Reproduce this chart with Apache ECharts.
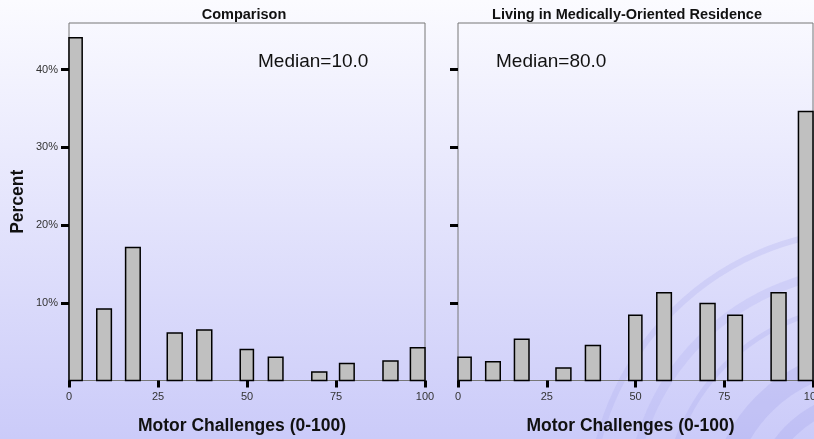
<!DOCTYPE html>
<html><head><meta charset="utf-8">
<script src="https://cdn.jsdelivr.net/npm/echarts@6/dist/echarts.min.js"></script>
<style>html,body{margin:0;padding:0;background:#fff}#c{width:814px;height:439px}</style>
</head><body><div id="c"></div>
<script>
// Histogram bins (Motor Challenges score, 0-100)
const binStart = [0, 7.8, 15.9, 27.6, 35.9, 48.1, 56.0, 68.2, 76.0, 88.2, 95.9];
const binEnd   = [3.7, 11.9, 20.0, 31.8, 40.1, 51.8, 60.1, 72.4, 80.1, 92.4, 100];
// Percent of group in each bin
const comparisonPct = [44.1, 9.2, 17.1, 6.1, 6.5, 4.0, 3.0, 1.1, 2.2, 2.5, 4.2];
const residencePct  = [3.0, 2.4, 5.3, 1.6, 4.5, 8.4, 11.3, 9.9, 8.4, 11.3, 34.6];
const panelTitles = ['Comparison', 'Living in Medically-Oriented Residence'];
const medianLabels = ['Median=10.0', 'Median=80.0'];
const yTickValues = [10, 20, 30, 40];
const xAxisTitle = 'Motor Challenges (0-100)';
const yAxisTitle = 'Percent';

const FONT = "'Liberation Sans', Arial, sans-serif";

function toData(vals){ return vals.map((v,i)=>[binStart[i], binEnd[i], v]); }

function renderBar(params, api){
  const p0 = api.coord([api.value(0), 0]);
  const p1 = api.coord([api.value(1), api.value(2)]);
  return {type:'rect',
    shape:{x:p0[0], y:p1[1], width:p1[0]-p0[0], height:p0[1]-p1[1]},
    style:{fill:'#c0c0c0', stroke:'#000', lineWidth:1.5}};
}

function xAxisCfg(idx){
  return {type:'value', gridIndex:idx, min:0, max:100, interval:25,
    axisLine:{show:true, lineStyle:{color:'#777', width:1}},
    axisTick:{show:true, length:7, lineStyle:{color:'#000', width:3}},
    axisLabel:{fontSize:11, color:'#333', margin:11, fontFamily:FONT},
    splitLine:{show:false},
    name:xAxisTitle, nameLocation:'middle', nameGap:37,
    nameTextStyle:{fontSize:17.5, fontWeight:'bold', color:'#111', fontFamily:FONT, padding:[0,10,0,0]}};
}
function yAxisCfg(idx, withLabels){
  const c = {type:'value', gridIndex:idx, min:0, max:46,
    axisLine:{show:false},
    axisTick:{show:true, length:8, customValues:yTickValues, lineStyle:{color:'#000', width:3}},
    axisLabel:{show:withLabels, customValues:yTickValues, formatter:'{value}%', fontSize:11, color:'#333', margin:11, fontFamily:FONT},
    splitLine:{show:false}};
  if (withLabels){
    c.name = yAxisTitle; c.nameLocation='middle'; c.nameGap=42;
    c.nameTextStyle={fontSize:17.5, fontWeight:'bold', color:'#111', fontFamily:FONT};
  }
  return c;
}

const swirlCx = 870, swirlCy = 510;
const swirl = [
  {r:280, w:6, a0:1.02, a1:1.62, c:'rgba(175,175,240,0.30)'},
  {r:240, w:9, a0:1.0, a1:1.62, c:'rgba(175,175,240,0.28)'},
  {r:205, w:5, a0:1.0, a1:1.6, c:'rgba(170,170,238,0.28)'},
  {r:150, w:22, a0:1.0, a1:1.6, c:'rgba(165,165,235,0.30)'},
  {r:112, w:14, a0:1.0, a1:1.65, c:'rgba(165,165,235,0.30)'},
  {r:78, w:12, a0:1.0, a1:1.7, c:'rgba(165,165,235,0.28)'}
];

const graphics = [
  {type:'rect', z:-100, silent:true, shape:{x:0,y:0,width:814,height:439},
   style:{fill:{type:'linear', x:0, y:0, x2:0, y2:1,
     colorStops:[{offset:0, color:'#fbfbff'},{offset:1, color:'#cbcbf9'}]}}}
].concat(swirl.map(s=>({type:'arc', z:-90, silent:true,
   shape:{cx:swirlCx, cy:swirlCy, r:s.r, startAngle:Math.PI*s.a0, endAngle:Math.PI*s.a1, clockwise:true},
   style:{stroke:s.c, lineWidth:s.w, fill:null}}))).concat([
  {type:'text', z:100, x:244, y:15, style:{text:panelTitles[0], fontSize:14.5, fontWeight:'bold', fontFamily:FONT, fill:'#111', align:'center', verticalAlign:'middle'}},
  {type:'text', z:100, x:627, y:15, style:{text:panelTitles[1], fontSize:14.5, fontWeight:'bold', fontFamily:FONT, fill:'#111', align:'center', verticalAlign:'middle'}},
  {type:'text', z:100, x:258, y:62, style:{text:medianLabels[0], fontSize:19, fontFamily:FONT, fill:'#111', align:'left', verticalAlign:'middle'}},
  {type:'text', z:100, x:496, y:62, style:{text:medianLabels[1], fontSize:19, fontFamily:FONT, fill:'#111', align:'left', verticalAlign:'middle'}}
]);

const chart = echarts.init(document.getElementById('c'), null, {renderer:'canvas'});
chart.setOption({
  animation:false,
  backgroundColor:'transparent',
  graphic:graphics,
  grid:[
    {left:69, top:23, width:356, bottom:58.5, show:true, borderColor:'#777', borderWidth:1, backgroundColor:'transparent', containLabel:false, outerBoundsMode:'none'},
    {left:458, top:23, width:355, bottom:58.5, show:true, borderColor:'#777', borderWidth:1, backgroundColor:'transparent', containLabel:false, outerBoundsMode:'none'}
  ],
  xAxis:[xAxisCfg(0), xAxisCfg(1)],
  yAxis:[yAxisCfg(0,true), yAxisCfg(1,false)],
  series:[
    {type:'custom', xAxisIndex:0, yAxisIndex:0, renderItem:renderBar, encode:{x:[0,1], y:2}, data:toData(comparisonPct), z:5},
    {type:'custom', xAxisIndex:1, yAxisIndex:1, renderItem:renderBar, encode:{x:[0,1], y:2}, data:toData(residencePct), z:5}
  ]
});
</script></body></html>
